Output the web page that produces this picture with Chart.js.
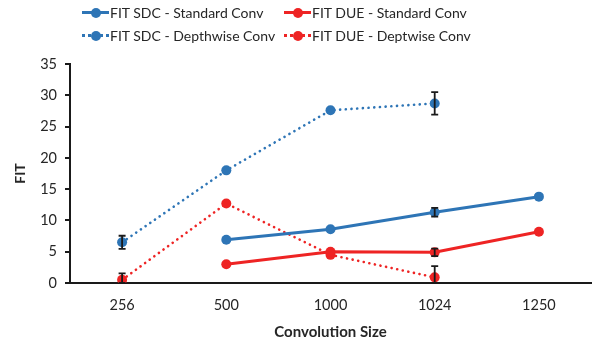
<!DOCTYPE html>
<html>
<head>
<meta charset="utf-8">
<script src="https://cdn.jsdelivr.net/npm/chart.js@4"></script>
<style>
  html, body { margin: 0; padding: 0; background: #fff; }
  #wrap { position: relative; width: 596px; height: 345px; }
  #legend { position: absolute; left: 82px; top: 2px; font-family: Lato, "DejaVu Sans", sans-serif;
            font-size: 14px; color: #262626; display: grid; white-space: nowrap;
            grid-template-columns: 202px 240px; row-gap: 2px; }
  .item { display: flex; align-items: center; height: 21px; }
  .mark { position: relative; width: 27px; height: 10px; margin-right: 1px; flex: none; }
  .mark .ln { position: absolute; left: 0; right: 0; top: 3.5px; border-top: 3px solid; }
  .mark .ln.dot { border-top-style: dotted; }
  .mark .pt { position: absolute; left: 8.5px; top: 0; width: 10px; height: 10px; border-radius: 50%; }
</style>
</head>
<body>
<div id="wrap">
  <canvas id="fitChart" width="596" height="345"></canvas>
  <div id="legend"></div>
</div>
<script>
    "use strict";

    const FONT = "Lato";
    const INK = "#262626";
    const AXIS = "#1a1a1a";

    const BLUE = "#2E75B6";
    const RED = "#EE2424";

    /* ── Data ── */
    const sizes = ["256", "500", "1000", "1024", "1250"];

    const sdcStandard = [null, 6.9, 8.6, 11.3, 13.8];
    const dueStandard = [null, 3.0, 5.0, 4.9, 8.2];
    const sdcDepthwise = [6.5, 18.0, 27.6, 28.7, null];
    const dueDepthwise = [0.5, 12.7, 4.5, 0.9, null];

    /* ± error at each point (0 = no bar) */
    const sdcStandardErr = [0, 0, 0, 0.7, 0];
    const dueStandardErr = [0, 0, 0, 0.6, 0];
    const sdcDepthwiseErr = [1.05, 0, 0, 1.8, 0];
    const dueDepthwiseErr = [1.05, 0, 0, 1.8, 0];

    const yTicks = [0, 5, 10, 15, 20, 25, 30, 35];

    const labels = [
        "FIT SDC - Standard Conv",
        "FIT DUE - Standard Conv",
        "FIT SDC - Depthwise Conv",
        "FIT DUE - Deptwise Conv"
    ];

    function series(label, data, err, color, dotted) {
        return {
            label, data, err,
            borderColor: color, backgroundColor: color,
            pointBackgroundColor: color, pointBorderColor: color,
            pointRadius: 5, pointHoverRadius: 5, pointBorderWidth: 0,
            borderWidth: dotted ? 2.6 : 3,
            borderDash: dotted ? [0.1, 5.6] : [],
            borderCapStyle: dotted ? "round" : "butt",
            tension: 0, spanGaps: false, fill: false
        };
    }

    /* ── Error bars, placed through the chart's own scales ── */
    const errorBars = {
        id: "errorBars",
        afterDatasetsDraw(chart) {
            const c = chart.ctx, x = chart.scales.x, y = chart.scales.y;
            c.save();
            c.strokeStyle = AXIS;
            c.lineWidth = 1.8;
            chart.data.datasets.forEach(ds => {
                ds.data.forEach((v, i) => {
                    const e = ds.err[i];
                    if (v == null || !e) return;
                    const px = x.getPixelForValue(i);
                    const top = y.getPixelForValue(v + e);
                    const bot = y.getPixelForValue(Math.max(0, v - e));
                    c.beginPath();
                    c.moveTo(px, top); c.lineTo(px, bot);
                    c.moveTo(px - 3.5, top); c.lineTo(px + 3.5, top);
                    c.moveTo(px - 3.5, bot); c.lineTo(px + 3.5, bot);
                    c.stroke();
                });
            });
            c.restore();
        }
    };

    new Chart(document.getElementById("fitChart"), {
        type: "line",
        data: {
            labels: sizes,
            datasets: [
                series(labels[0], sdcStandard, sdcStandardErr, BLUE, false),
                series(labels[1], dueStandard, dueStandardErr, RED, false),
                series(labels[2], sdcDepthwise, sdcDepthwiseErr, BLUE, true),
                series(labels[3], dueDepthwise, dueDepthwiseErr, RED, true)
            ]
        },
        options: {
            responsive: false, animation: false,
            layout: { padding: { top: 64, right: 0, left: 0, bottom: 0 } },
            plugins: { legend: { display: false }, tooltip: { enabled: false } },
            scales: {
                x: {
                    offset: true,
                    grid: { display: false, drawTicks: false },
                    border: { display: true, color: AXIS, width: 2 },
                    ticks: { color: INK, padding: 14, font: { family: FONT, size: 14.5 } },
                    title: { display: true, text: "Convolution Size", color: INK, padding: { top: 6 },
                             font: { family: FONT, size: 15, weight: "bold" } },
                    afterFit(s) { s.height = 62; }
                },
                y: {
                    min: 0, max: 35,
                    afterBuildTicks(s) { s.ticks = yTicks.map(v => ({ value: v })); },
                    grid: { display: true, drawOnChartArea: false, drawTicks: true, tickLength: 5, color: AXIS, lineWidth: 2 },
                    border: { display: true, color: AXIS, width: 2 },
                    ticks: { color: INK, padding: 8, font: { family: FONT, size: 14.5 } },
                    title: { display: true, text: "FIT", color: INK, padding: { top: 12, bottom: 0 },
                             font: { family: FONT, size: 14, weight: "bold" } },
                    afterFit(s) { s.width = 70; }
                }
            }
        },
        plugins: [errorBars]
    });

    /* ── HTML legend, two per row ── */
    const styles = [[BLUE, false], [RED, false], [BLUE, true], [RED, true]];
    document.getElementById("legend").innerHTML = labels.map((t, i) =>
        `<div class="item"><span class="mark"><span class="ln${styles[i][1] ? " dot" : ""}" style="border-color:${styles[i][0]}"></span>` +
        `<span class="pt" style="background:${styles[i][0]}"></span></span>${t}</div>`).join("");
</script>
</body>
</html>
